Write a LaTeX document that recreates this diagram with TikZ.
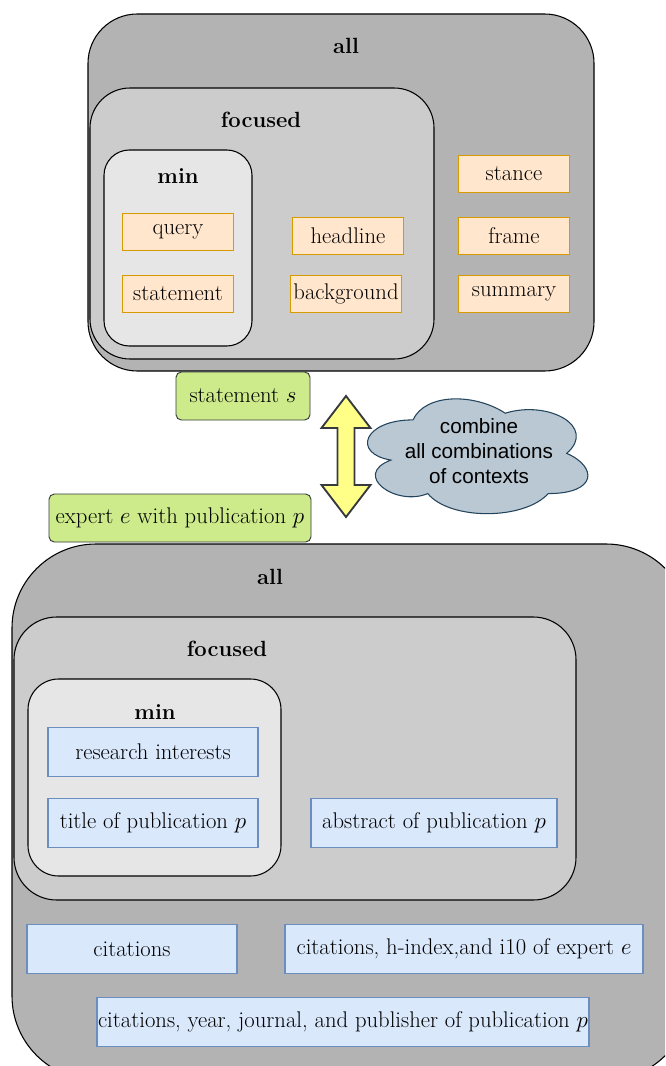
\documentclass[tikz,border=0pt]{standalone}
\usepackage{fontspec}
\newfontfamily\cloudfont{Liberation Sans}

\definecolor{allgray}{HTML}{B3B3B3}
\definecolor{focgray}{HTML}{CCCCCC}
\definecolor{mingray}{HTML}{E6E6E6}
\definecolor{ctxfill}{HTML}{FFE6CC}
\definecolor{ctxline}{HTML}{D79B00}
\definecolor{infofill}{HTML}{DAE8FC}
\definecolor{infoline}{HTML}{6C8EBF}
\definecolor{itemfill}{HTML}{CDEB8B}
\definecolor{itemline}{HTML}{36393D}
\definecolor{arrowfill}{HTML}{FFFF88}
\definecolor{cloudfill}{HTML}{BAC8D3}
\definecolor{cloudline}{HTML}{23445D}

\tikzset{
  level/.style={draw=black, line width=0.8pt},
  lbl/.style={font=\fontsize{16.5}{19}\selectfont\bfseries},
  ctx/.style={draw=ctxline, fill=ctxfill, line width=1pt,
    minimum width=83pt, minimum height=27.5pt, inner sep=0pt},
  info/.style={draw=infoline, fill=infofill, line width=0.8pt,
    minimum width=157.5pt, minimum height=36.75pt, inner sep=0pt},
  item/.style={draw=itemline, fill=itemfill, line width=0.7pt,
    rounded corners=4pt, minimum height=36pt, inner sep=0pt}
}

\begin{document}
\begin{tikzpicture}[x=0.75pt, y=-0.75pt, font=\fontsize{17}{20}\selectfont]

\clip (0,0) rectangle (665,1066);

% statement side
\draw[level, fill=allgray, rounded corners=37pt] (88,14) rectangle (594,371);
\draw[level, fill=focgray, rounded corners=30pt] (90,88) rectangle (434,359);
\draw[level, fill=mingray, rounded corners=19pt] (104,150) rectangle (252,346);

\node[lbl] (s_all) at (346,46)  {all};
\node[lbl] (s_foc) at (261,120) {focused};
\node[lbl] (s_min) at (178,176) {min};

\node[ctx] (query)      at (178,232) {query};
\node[ctx] (statement)  at (178,294) {statement};
\node[ctx] (headline)   at (348,236) {headline};
\node[ctx] (background) at (346,294) {background};
\node[ctx] (stance)     at (514,174) {stance};
\node[ctx] (frame)      at (514,236) {frame};
\node[ctx] (summary)    at (514,294) {summary};

% middle
\node[item, minimum width=100.5pt] (stmt_s) at (243,396) {statement $s$};
\node[item, minimum width=196.5pt] (expert) at (180,518) {expert $e$ with publication $p$};

\draw[draw=itemline, fill=arrowfill, line width=1.4pt, line join=miter]
  (346,396) -- (370.5,428) -- (354.5,428) -- (354.5,485) -- (370.5,485)
  -- (346,517) -- (321.5,485) -- (337.5,485) -- (337.5,428) -- (321.5,428) -- cycle;

\begin{scope}[shift={(351.5,386.4)}, xscale=1.103, yscale=1.165]
\draw[draw=cloudline, fill=cloudfill, line width=0.8pt]
  (55.75,28.75) .. controls (11.15,28.75) and (0,57.5) .. (35.68,63.25)
  .. controls (0,75.9) and (40.14,103.5) .. (69.13,92)
  .. controls (89.2,115) and (156.1,115) .. (178.4,92)
  .. controls (223,92) and (223,69) .. (195.13,57.5)
  .. controls (223,34.5) and (178.4,11.5) .. (139.38,23)
  .. controls (111.5,5.75) and (66.9,5.75) .. (55.75,28.75) -- cycle;
\end{scope}
\node[align=center, font=\cloudfont\fontsize{15.5}{19}\selectfont]
  (combine) at (479,451) {combine\\all combinations\\of contexts};

% expert side
\draw[level, fill=allgray, rounded corners=63pt] (12,544) rectangle (690,1080);
\draw[level, fill=focgray, rounded corners=32pt] (14,617) rectangle (576,900);
\draw[level, fill=mingray, rounded corners=23pt] (28,679) rectangle (281,876);

\node[lbl] (e_all) at (270,577) {all};
\node[lbl] (e_foc) at (227,649) {focused};
\node[lbl] (e_min) at (155,712) {min};

\node[info] (interests) at (153,752) {research interests};
\node[info] (title)     at (153,823) {title of publication $p$};
\node[info, minimum width=184.5pt] (abstract) at (434,823) {abstract of publication $p$};
\node[info] (citations) at (132,949) {citations};
\node[info, minimum width=268.5pt] (hindex) at (464,949)
  {citations, h-index,and i10 of expert $e$};
\node[info, minimum width=369pt] (venue) at (343,1022)
  {citations, year, journal, and publisher of publication $p$};

\end{tikzpicture}
\end{document}
